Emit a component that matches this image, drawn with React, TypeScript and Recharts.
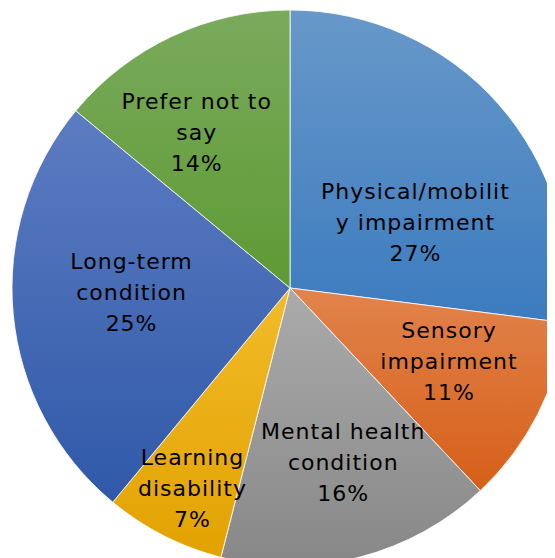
import React from "react";
import { PieChart, Pie, Cell } from "recharts";

const categories = [
  "Physical/mobility impairment",
  "Sensory impairment",
  "Mental health condition",
  "Learning disability",
  "Long-term condition",
  "Prefer not to say",
];
const values = [27, 11, 16, 7, 25, 14];
const labelLines = [
  ["Physical/mobilit", "y impairment"],
  ["Sensory", "impairment"],
  ["Mental health", "condition"],
  ["Learning", "disability"],
  ["Long-term", "condition"],
  ["Prefer not to", "say"],
];

const gradients = [
  ["#6898c9", "#3b7bbf"],
  ["#e2834c", "#d65f18"],
  ["#ababab", "#878787"],
  ["#f2bb2a", "#e2a200"],
  ["#5d7cc2", "#2f59a8"],
  ["#7aaa5c", "#5e9a34"],
];
// label placement tweaks: radius fraction and angle offset (degrees)
const labelPlace = [
  [0.51, -13.6],
  [0.63, 2.2],
  [0.655, 2.6],
  [0.8, 1],
  [0.57, -4],
  [0.655, 5.6],
];

const data = categories.map((name, i) => ({ name, value: values[i] }));
const RAD = Math.PI / 180;

const renderLabel = (props: any) => {
  const { cx, cy, midAngle, outerRadius, index } = props;
  const [rf, da] = labelPlace[index];
  const a = (midAngle + da) * RAD;
  const r = outerRadius * rf;
  const x = cx + r * Math.cos(a);
  const y = cy - r * Math.sin(a);
  const lines = [...labelLines[index], `${values[index]}%`];
  const lh = 31;
  const y0 = y - ((lines.length - 1) * lh) / 2;
  return (
    <text
      x={x}
      y={y0}
      textAnchor="middle"
      dominantBaseline="central"
      fill="#000"
      fontFamily="'DejaVu Sans', sans-serif"
      fontSize={22}
      letterSpacing={1}
    >
      {lines.map((l, i) => (
        <tspan key={i} x={x} y={y0 + i * lh} dominantBaseline="central">
          {l}
        </tspan>
      ))}
    </text>
  );
};

export default function App() {
  return (
    <PieChart width={547} height={550} margin={{ top: 0, right: 0, bottom: 0, left: 0 }}>
      <defs>
        {gradients.map((g, i) => (
          <linearGradient key={i} id={`grad${i}`} x1="0" y1="0" x2="0" y2="1">
            <stop offset="0%" stopColor={g[0]} />
            <stop offset="100%" stopColor={g[1]} />
          </linearGradient>
        ))}
      </defs>
      <Pie
        data={data}
        dataKey="value"
        nameKey="name"
        cx={282}
        cy={280}
        outerRadius={278}
        startAngle={90}
        endAngle={-270}
        stroke="#ffffff"
        strokeWidth={0.8}
        label={renderLabel}
        labelLine={false}
        isAnimationActive={false}
      >
        {data.map((_, i) => (
          <Cell key={i} fill={`url(#grad${i})`} />
        ))}
      </Pie>
    </PieChart>
  );
}
